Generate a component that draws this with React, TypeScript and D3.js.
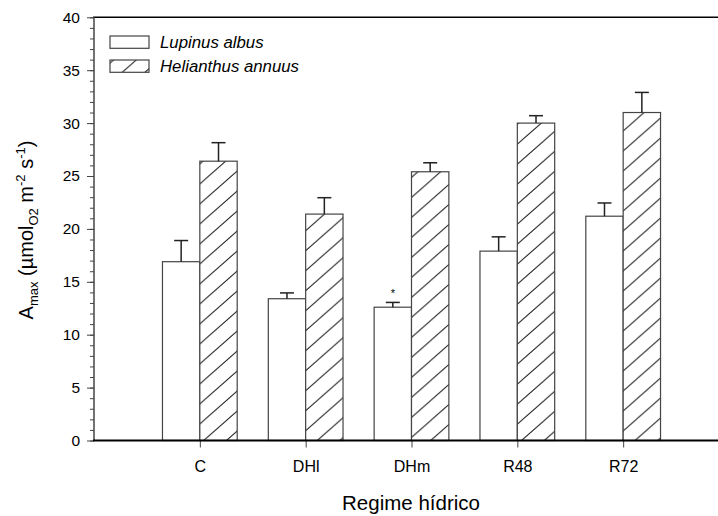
import React, { useEffect, useRef } from "react";
import * as d3 from "d3";

const categories = ["C", "DHl", "DHm", "R48", "R72"];
const lupinus = [16.9, 13.4, 12.6, 17.9, 21.2];
const lupinusErr = [2.0, 0.55, 0.45, 1.35, 1.25];
const helianthus = [26.4, 21.4, 25.4, 30.0, 31.0];
const helianthusErr = [1.75, 1.55, 0.85, 0.7, 1.9];
const seriesNames = ["Lupinus albus", "Helianthus annuus"];
const yTicks = [0, 5, 10, 15, 20, 25, 30, 35, 40];

const W = 718;
const H = 516;
const FONT = "Liberation Sans, Arial, sans-serif";

const App = () => {
  const ref = useRef<SVGSVGElement>(null);

  useEffect(() => {
    const svg = d3.select(ref.current);
    svg.selectAll("*").remove();

    const x = d3.scaleLinear().domain([0, 6]).range([94, 729]);
    const y = d3.scaleLinear().domain([0, 40]).range([440.5, 17.3]);
    const step = x(1) - x(0);
    const barW = step * 0.353;

    // hatch pattern
    const hw = 22.7;
    const hh = 20;
    const defs = svg.append("defs");
    const pat = defs
      .append("pattern")
      .attr("id", "hatch")
      .attr("patternUnits", "userSpaceOnUse")
      .attr("width", hw)
      .attr("height", hh);
    pat.append("rect").attr("width", hw).attr("height", hh).attr("fill", "#fff");
    pat
      .append("path")
      .attr("d", `M0,${hh} L${hw},0 M${-hw / 4},${hh / 4} L${hw / 4},${-hh / 4} M${(hw * 3) / 4},${(hh * 5) / 4} L${(hw * 5) / 4},${(hh * 3) / 4}`)
      .attr("stroke", "#222")
      .attr("stroke-width", 1)
      .attr("fill", "none");

    // top frame line
    svg.append("line").attr("x1", 93).attr("x2", W).attr("y1", y(40)).attr("y2", y(40)).attr("stroke", "#000").attr("stroke-width", 1.5);

    // bars
    const g = svg.append("g");
    categories.forEach((c, i) => {
      const cx = x(i + 1);
      const pairs = [
        { v: lupinus[i], e: lupinusErr[i], x0: cx - barW, fill: "#fff" },
        { v: helianthus[i], e: helianthusErr[i], x0: cx, fill: "url(#hatch)" },
      ];
      pairs.forEach((p) => {
        g.append("rect")
          .attr("x", p.x0)
          .attr("y", y(p.v))
          .attr("width", barW)
          .attr("height", y(0) - y(p.v))
          .attr("fill", p.fill)
          .attr("stroke", "#444")
          .attr("stroke-width", 1.2);
        const mx = p.x0 + barW / 2;
        g.append("line").attr("x1", mx).attr("x2", mx).attr("y1", y(p.v)).attr("y2", y(p.v + p.e)).attr("stroke", "#222").attr("stroke-width", 1.5);
        g.append("line").attr("x1", mx - 7).attr("x2", mx + 7).attr("y1", y(p.v + p.e)).attr("y2", y(p.v + p.e)).attr("stroke", "#222").attr("stroke-width", 1.5);
      });
    });

    // significance mark on DHm Lupinus
    const di = categories.indexOf("DHm");
    svg.append("text")
      .attr("x", x(di + 1) - barW / 2)
      .attr("y", y(lupinus[di] + lupinusErr[di]) + 1)
      .attr("dy", "-0.6em")
      .attr("text-anchor", "middle")
      .style("font-family", FONT)
      .style("font-size", "11px")
      .text("*");

    // y axis: minor + major ticks
    const yAxisG = svg.append("g").attr("transform", `translate(${x(0)},0)`);
    yAxisG
      .append("g")
      .call(d3.axisLeft(y).tickValues(d3.range(0, 41, 1)).tickSize(4).tickFormat(() => ""))
      .call((a) => a.select(".domain").remove())
      .selectAll("line")
      .attr("stroke", "#444");
    const major = yAxisG
      .append("g")
      .call(d3.axisLeft(y).tickValues(yTicks).tickSize(7).tickPadding(7))
      .call((a) => a.select(".domain").remove());
    major.selectAll("line").attr("stroke", "#444");
    major.selectAll("text").style("font-family", FONT).style("font-size", "15.5px").attr("fill", "#000");
    svg.append("line").attr("x1", x(0)).attr("x2", x(0)).attr("y1", y(40)).attr("y2", y(0)).attr("stroke", "#444").attr("stroke-width", 1.5);

    // x axis
    const xAxisG = svg
      .append("g")
      .attr("transform", `translate(0,${y(0)})`)
      .call(
        d3
          .axisBottom(x)
          .tickValues(d3.range(1, categories.length + 1))
          .tickSize(7)
          .tickPadding(13)
          .tickFormat((d) => categories[(d as number) - 1])
      )
      .call((a) => a.select(".domain").remove());
    xAxisG.selectAll("line").attr("stroke", "#444");
    xAxisG.selectAll("text").style("font-family", FONT).style("font-size", "16px").attr("fill", "#000");
    svg.append("line").attr("x1", 93).attr("x2", W).attr("y1", y(0)).attr("y2", y(0)).attr("stroke", "#000").attr("stroke-width", 2);

    // axis titles
    svg.append("text")
      .attr("x", 411)
      .attr("y", 510)
      .attr("text-anchor", "middle")
      .style("font-family", FONT)
      .style("font-size", "20.5px")
      .text("Regime hídrico");

    const yl = svg.append("text")
      .attr("transform", "translate(33,230) rotate(-90)")
      .attr("text-anchor", "middle")
      .style("font-family", FONT)
      .style("font-size", "20px");
    const parts: [string, number][] = [
      ["A", 0],
      ["max", -5],
      [" (µmol", 0],
      ["O2", -5],
      [" m", 0],
      ["-2", 8],
      [" s", 0],
      ["-1", 8],
      [")", 0],
    ];
    parts.forEach(([t, shift]) => {
      yl.append("tspan")
        .attr("baseline-shift", shift)
        .style("font-size", shift === 0 ? "20px" : "13px")
        .text(t);
    });

    // legend
    const leg = svg.append("g");
    seriesNames.forEach((name, i) => {
      const ly = 36 + i * 24;
      leg.append("rect")
        .attr("x", 110)
        .attr("y", ly)
        .attr("width", 39)
        .attr("height", 12.3)
        .attr("fill", i === 0 ? "#fff" : "url(#hatch)")
        .attr("stroke", "#444")
        .attr("stroke-width", 1.2);
      leg.append("text")
        .attr("x", 160)
        .attr("y", ly + 12.3)
        .style("font-family", FONT)
        .style("font-size", "16.8px")
        .style("font-style", "italic")
        .text(name);
    });
  }, []);

  return <svg ref={ref} width={W} height={H} style={{ position: "absolute", left: 0, top: 0, background: "#fff" }}></svg>;
};

export default App;
